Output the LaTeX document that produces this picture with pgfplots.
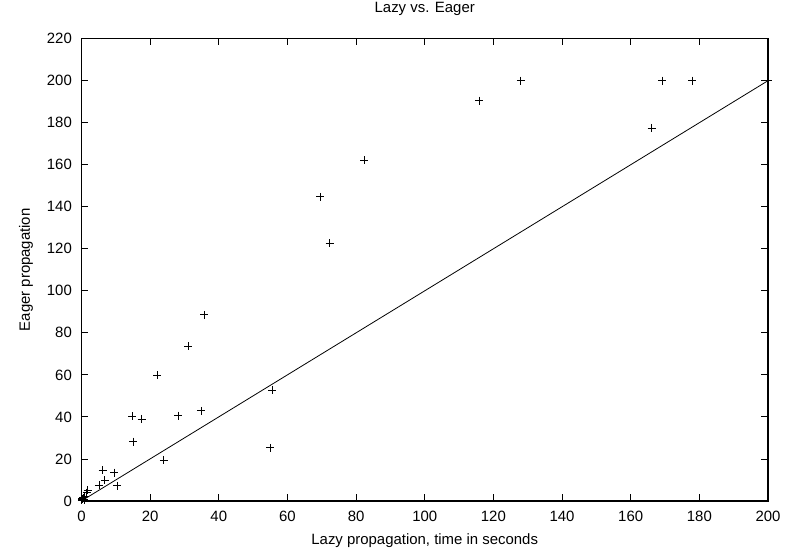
\documentclass[border=0pt]{standalone}
\usepackage{fontspec}
\setmainfont{Liberation Sans}
\usepackage{pgfplots}
\pgfplotsset{compat=1.18}
\begin{document}
\begin{tikzpicture}
\begin{axis}[
  name=ax,
  scale only axis,
  width=514.9pt, height=346.7pt,
  xmin=0, xmax=200, ymin=0, ymax=220,
  xtick={0,20,...,200}, ytick={0,20,...,220},
  tick align=inside,
  major tick length=5pt,
  axis line style={line width=0.9pt},
  every tick/.style={black, line width=0.6pt},
  /pgf/number format/assume math mode=true,
  font=\fontsize{11.2}{13}\selectfont,
  ticklabel style={font=\fontsize{11.2}{13}\selectfont},
  xticklabel style={yshift=-4.2pt},
  yticklabel style={xshift=-3.7pt},
  clip=false,
  title={Lazy vs. Eager},
  title style={at={(axis description cs:0.5,1.047)}, anchor=center, inner sep=0pt},
  xlabel={Lazy propagation, time in seconds},
  xlabel style={at={(axis description cs:0.5,-0.085)}, anchor=center, inner sep=0pt},
  ylabel={Eager propagation},
  ylabel style={at={(axis description cs:-0.0808,0.5)}, anchor=center, inner sep=0pt},
]
\addplot[only marks, mark=+, mark size=3pt, mark options={line width=0.6pt}, black] coordinates {
(0.1,0.3)(0.3,0.8)(0.5,1.5)(0.2,1.1)(0.8,0.5)(1.0,2.0)(1.5,3.9)(1.8,5.2)
(5.1,7.6)(6.8,9.8)(6.2,14.6)(9.6,13.5)(10.4,7.3)
(14.8,40.4)(17.5,39.0)(15.1,28.2)(24.0,19.5)(28.2,40.6)(34.8,42.9)
(22.1,59.8)(31.1,73.6)(35.7,88.6)(55.0,25.3)(55.6,52.8)
(69.5,144.7)(72.3,122.7)(82.4,162.1)(115.9,190.5)(128.0,200)
(166.1,177.5)(169.2,200)(178.0,200)(199.9,200)
};
\addplot[black, line width=0.6pt] coordinates {(0,0)(200,200)};
\end{axis}
\pgfresetboundingbox
\path ([shift={(-61.1pt,-36.75pt)}]ax.south west) rectangle ([shift={(12.75pt,29pt)}]ax.north east);
\end{tikzpicture}
\end{document}
